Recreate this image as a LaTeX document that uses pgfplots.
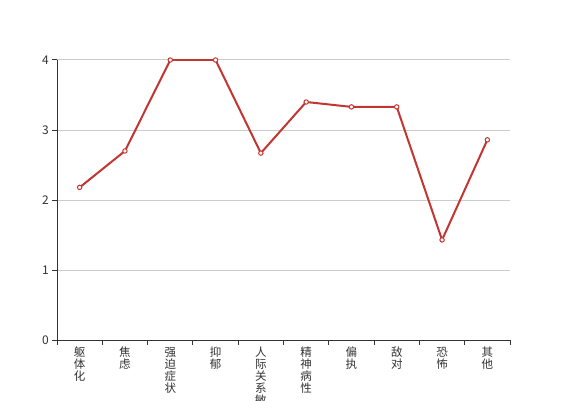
\documentclass[border=0pt]{standalone}
\usepackage{pgfplots}
\pgfplotsset{compat=1.18}
\usepackage{fontspec}
\setmainfont{Noto Sans CJK SC}
\definecolor{ered}{HTML}{C23531}
\definecolor{eaxis}{HTML}{333333}
\definecolor{egrid}{HTML}{CCCCCC}
\newcommand\xlblfont{\fontsize{11.5bp}{12bp}\selectfont\lineskiplimit=-20bp\relax\lineskip=0bp\relax}
\begin{document}
\begin{tikzpicture}[x=1bp,y=1bp]
\useasboundingbox (0,0) rectangle (567,400);
\clip (0,0) rectangle (567,400);
\begin{axis}[
  at={(57bp,60bp)}, anchor=south west,
  width=453bp, height=280bp, scale only axis,
  xmin=-0.5, xmax=9.5, ymin=0, ymax=4,
  ytick={0,1,2,3,4},
  xtick={-0.5,0.5,1.5,2.5,3.5,4.5,5.5,6.5,7.5,8.5,9.5},
  x tick label as interval,
  xticklabels={{躯\\体\\化},{焦\\虑},{强\\迫\\症\\状},{抑\\郁},{人\\际\\关\\系\\敏\\感},{精\\神\\病\\性},{偏\\执},{敌\\对},{恐\\怖},{其\\他}},
  ymajorgrids, grid style={egrid, line width=1bp},
  axis x line*=bottom, axis y line*=left,
  axis line style={eaxis, line width=1bp, -},
  tick align=outside, major tick length=5bp,
  tick style={eaxis, line width=1bp},
  /pgf/number format/assume math mode=true,
  yticklabel style={font=\fontsize{12bp}{13bp}\selectfont, text=eaxis, inner sep=0pt, xshift=-3bp},
  xticklabel style={font=\xlblfont, text=eaxis, align=center, text width=12bp, anchor=north, inner sep=0pt, yshift=-2bp},
]
\addplot[ered, line width=2bp, mark=*, mark size=2.2bp,
  mark options={fill=white, draw=ered, line width=1bp}]
  coordinates {(0,2.18) (1,2.7) (2,4) (3,4) (4,2.67) (5,3.4) (6,3.33) (7,3.33) (8,1.43) (9,2.86)};
\end{axis}
\end{tikzpicture}
\end{document}
